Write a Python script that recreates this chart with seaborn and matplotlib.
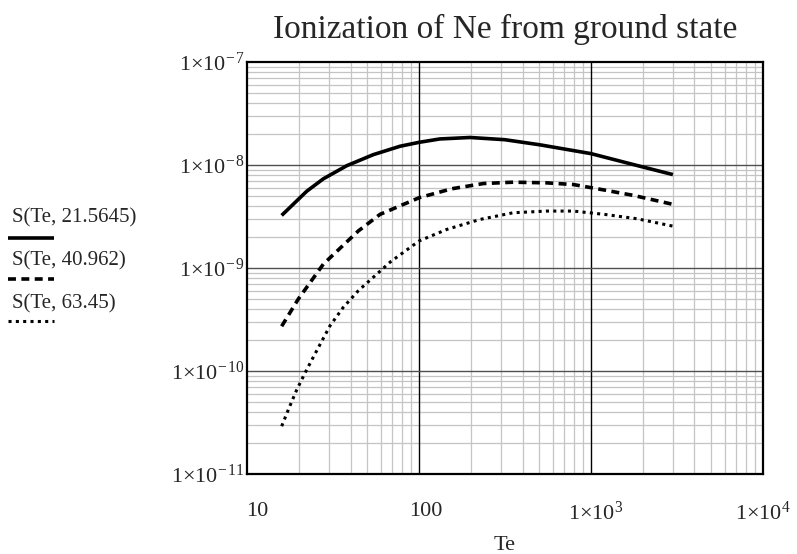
import numpy as np
import pandas as pd
import matplotlib
matplotlib.use("Agg")
import matplotlib.pyplot as plt
import matplotlib.transforms as mtransforms
from matplotlib.lines import Line2D
from matplotlib.ticker import LogLocator, NullFormatter
import seaborn as sns

# ---------------------------------------------------------------
# datos (Te en eV, S en cm^3/s)
# ---------------------------------------------------------------
te_a = [15.85, 22.2, 27.7, 37.9, 54.1, 77.4, 100, 132, 198, 316, 505, 1000, 1928, 3000]
s_a = [3.24e-9, 5.57e-9, 7.34e-9, 9.84e-9, 1.26e-8, 1.52e-8, 1.66e-8, 1.79e-8,
       1.85e-8, 1.76e-8, 1.57e-8, 1.29e-8, 9.73e-9, 8.07e-9]

te_b = [15.85, 19.8, 27.7, 37.9, 44.3, 59.3, 100, 155, 237, 353, 553, 791, 1208, 1766, 3000]
s_b = [2.72e-10, 4.99e-10, 1.09e-9, 1.79e-9, 2.29e-9, 3.32e-9, 4.81e-9, 5.88e-9,
       6.61e-9, 6.81e-9, 6.71e-9, 6.46e-9, 5.70e-9, 5.07e-9, 4.15e-9]

te_c = [15.85, 17.5, 19.4, 21.9, 24.8, 30.3, 36.2, 44.3, 68.2, 100, 145, 226, 353,
        553, 791, 1208, 1849, 3000]
s_c = [2.91e-11, 4.38e-11, 6.57e-11, 9.9e-11, 1.47e-10, 2.75e-10, 4.15e-10, 6.02e-10,
       1.15e-9, 1.83e-9, 2.37e-9, 2.96e-9, 3.44e-9, 3.57e-9, 3.57e-9, 3.31e-9,
       3.01e-9, 2.55e-9]

etiquetas = ["S(Te, 21.5645)", "S(Te, 40.962)", "S(Te, 63.45)"]
titulo = "Ionization of Ne from ground state"

x_ticks = [10, 100, 1e3, 1e4]
x_labels = ["10", "100", r"$1{\times}10^{3}$", r"$1{\times}10^{4}$"]
y_ticks = [1e-11, 1e-10, 1e-9, 1e-8, 1e-7]
y_labels = [r"$1{\times}10^{-\,11}$", r"$1{\times}10^{-\,10}$", r"$1{\times}10^{-\,9}$",
            r"$1{\times}10^{-\,8}$", r"$1{\times}10^{-\,7}$"]

# ---------------------------------------------------------------
# estilo
# ---------------------------------------------------------------
sns.set_style("white")
plt.rcParams["font.family"] = ["Liberation Serif", "DejaVu Serif"]
plt.rcParams["mathtext.fontset"] = "custom"
plt.rcParams["mathtext.rm"] = "Liberation Serif"
plt.rcParams["mathtext.it"] = "Liberation Serif:italic"

W, H = 797, 554
fig = plt.figure(figsize=(W / 100, H / 100), dpi=100)
ax = fig.add_axes([247.3 / W, 1 - 474 / H, (762.7 - 247.3) / W, (474 - 62) / H])

df_a = pd.DataFrame({"Te": te_a, "S": s_a})
df_b = pd.DataFrame({"Te": te_b, "S": s_b})
df_c = pd.DataFrame({"Te": te_c, "S": s_c})

sns.lineplot(data=df_a, x="Te", y="S", ax=ax, color="black", linewidth=2.6,
             estimator=None, sort=False)
sns.lineplot(data=df_b, x="Te", y="S", ax=ax, color="black", linewidth=2.6,
             estimator=None, sort=False)
ax.lines[-1].set_dashes((2.2, 1.5))
sns.lineplot(data=df_c, x="Te", y="S", ax=ax, color="black", linewidth=2.2,
             estimator=None, sort=False)
ax.lines[-1].set_dashes((1.0, 1.4))
for ln in ax.lines:
    ln.set_dash_capstyle("butt")
    ln.set_solid_capstyle("butt")
    ln.set_zorder(3)

ax.set_xscale("log")
ax.set_yscale("log")
ax.set_xlim(10, 1e4)
ax.set_ylim(1e-11, 1e-7)

ax.set_xticks(x_ticks)
ax.set_xticklabels(x_labels, fontsize=16)
ax.set_yticks(y_ticks)
ax.set_yticklabels(y_labels, fontsize=16)
ax.xaxis.set_minor_locator(LogLocator(base=10, subs=range(2, 10)))
ax.yaxis.set_minor_locator(LogLocator(base=10, subs=range(2, 10)))
ax.xaxis.set_minor_formatter(NullFormatter())
ax.yaxis.set_minor_formatter(NullFormatter())
ax.tick_params(which="both", length=0)
ax.tick_params(axis="x", pad=20)
ax.tick_params(axis="y", pad=2)

# Mathcad corre un poco a la derecha las etiquetas del eje x
desplaz = [10, 7, 5, 0]
for lab, dx in zip(ax.get_xticklabels(), desplaz):
    lab.set_transform(lab.get_transform() +
                      mtransforms.ScaledTranslation(dx / 100, 0, fig.dpi_scale_trans))

# rejilla: menores grises abajo, mayores oscuras por encima de las menores
ax.set_axisbelow(True)
ax.grid(which="minor", color="#c4c4c4", linewidth=0.9, linestyle="-")
ax.grid(which="major", visible=False)
for xv in x_ticks[1:-1]:
    ax.axvline(xv, color="black", linewidth=1.0, zorder=1)
for yv in y_ticks[1:-1]:
    ax.axhline(yv, color="#505050", linewidth=1.0, zorder=1)
for sp in ax.spines.values():
    sp.set_color("black")
    sp.set_linewidth(1.6)
    sp.set_zorder(4)

ax.set_xlabel("Te", fontsize=16, labelpad=8)
ax.set_ylabel("")
fig.text(505 / W, 1 - 38 / H, titulo, ha="center", va="baseline", fontsize=24)

# leyenda al estilo Mathcad: texto arriba, muestra de linea abajo
estilos = [dict(lw=2.6), dict(lw=2.6, dashes=(2.2, 1.5)), dict(lw=2.2, dashes=(1.0, 1.4))]
base_txt = [222, 265, 308]
base_lin = [238, 279, 321]
for etq, est, yt, yl in zip(etiquetas, estilos, base_txt, base_lin):
    fig.text(12 / W, 1 - yt / H, etq, ha="left", va="baseline", fontsize=15)
    linea = Line2D([8 / W, 54 / W], [1 - yl / H, 1 - yl / H], transform=fig.transFigure,
                   color="black", linewidth=est["lw"], dash_capstyle="butt",
                   solid_capstyle="butt")
    if "dashes" in est:
        linea.set_dashes(est["dashes"])
    fig.add_artist(linea)

fig.savefig("out.png", dpi=100)
